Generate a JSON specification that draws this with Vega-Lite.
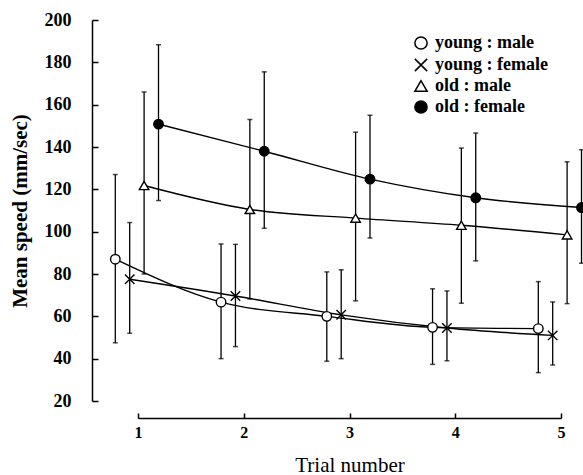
{
  "$schema": "https://vega.github.io/schema/vega-lite/v6.json",
  "width": 491,
  "height": 381,
  "autosize": {"type": "none"},
  "padding": {"left": 92, "top": 20, "right": 0, "bottom": 74},
  "background": "white",
  "config": {
    "view": {"stroke": null},
    "font": "Liberation Serif",
    "axis": {"grid": false, "domainColor": "black", "tickColor": "black", "labelColor": "black", "titleColor": "black", "domainWidth": 1.5, "tickWidth": 1.5}
  },
  "data": {
    "values": [
      {"trial": 1, "group": "young : male", "mean": 87, "hi": 127, "lo": 47.5},
      {"trial": 2, "group": "young : male", "mean": 66.7, "hi": 94.2, "lo": 40},
      {"trial": 3, "group": "young : male", "mean": 60, "hi": 81, "lo": 38.8},
      {"trial": 4, "group": "young : male", "mean": 54.8, "hi": 73, "lo": 37.3},
      {"trial": 5, "group": "young : male", "mean": 54.2, "hi": 76.4, "lo": 33.4},
      {"trial": 1, "group": "young : female", "mean": 77.5, "hi": 104.3, "lo": 52},
      {"trial": 2, "group": "young : female", "mean": 69.6, "hi": 94, "lo": 45.7},
      {"trial": 3, "group": "young : female", "mean": 60.7, "hi": 82, "lo": 40},
      {"trial": 4, "group": "young : female", "mean": 54.5, "hi": 72, "lo": 39},
      {"trial": 5, "group": "young : female", "mean": 51, "hi": 66.8, "lo": 37},
      {"trial": 1, "group": "old : male", "mean": 121.8, "hi": 166, "lo": 80},
      {"trial": 2, "group": "old : male", "mean": 110.5, "hi": 153, "lo": 68.2},
      {"trial": 3, "group": "old : male", "mean": 106.4, "hi": 147, "lo": 67.3},
      {"trial": 4, "group": "old : male", "mean": 103, "hi": 139.5, "lo": 66.2},
      {"trial": 5, "group": "old : male", "mean": 98.5, "hi": 133, "lo": 66},
      {"trial": 1, "group": "old : female", "mean": 150.8, "hi": 188.3, "lo": 114.7},
      {"trial": 2, "group": "old : female", "mean": 138, "hi": 175.5, "lo": 101.6},
      {"trial": 3, "group": "old : female", "mean": 124.8, "hi": 155, "lo": 97},
      {"trial": 4, "group": "old : female", "mean": 116, "hi": 146.6, "lo": 86.2},
      {"trial": 5, "group": "old : female", "mean": 111.4, "hi": 138.7, "lo": 85.1}
    ]
  },
  "encoding": {
    "x": {
      "field": "trial", "type": "ordinal",
      "scale": {"type": "point", "range": [46, 469], "padding": 0},
      "axis": {"labelAngle": 0, "tickSize": -5, "offset": 17, "labelFontSize": 16, "labelFontWeight": "bold", "labelPadding": 11, "title": "Trial number", "titleFontSize": 21, "titleFontWeight": "normal", "titlePadding": 14}
    },
    "xOffset": {
      "field": "group", "type": "nominal",
      "scale": {"type": "point", "domain": ["young : male", "young : female", "old : male", "old : female"], "range": [-22.7, 20.5], "padding": 0}
    }
  },
  "layer": [
    {
      "mark": {"type": "line", "color": "black", "strokeWidth": 1.4, "interpolate": "monotone"},
      "encoding": {"y": {"field": "mean", "type": "quantitative", "scale": {"domain": [20, 200]}, "axis": {"values": [20, 40, 60, 80, 100, 120, 140, 160, 180, 200], "tickSize": -6, "labelFontSize": 18, "labelFontWeight": "bold", "labelPadding": 27, "title": "Mean speed (mm/sec)", "titleFontSize": 21, "titleFontWeight": "bold", "titlePadding": 14}}, "detail": {"field": "group"}}
    },
    {
      "mark": {"type": "rule", "color": "black", "strokeWidth": 1.3},
      "encoding": {"y": {"field": "lo", "type": "quantitative"}, "y2": {"field": "hi"}}
    },
    {
      "mark": {"type": "tick", "orient": "horizontal", "color": "black", "size": 5, "thickness": 1.5},
      "encoding": {"y": {"field": "hi", "type": "quantitative"}}
    },
    {
      "mark": {"type": "tick", "orient": "horizontal", "color": "black", "size": 5, "thickness": 1.5},
      "encoding": {"y": {"field": "lo", "type": "quantitative"}}
    },
    {
      "mark": {"type": "point", "filled": true, "stroke": "black", "strokeWidth": 1.4, "size": 90, "opacity": 1},
      "encoding": {
        "y": {"field": "mean", "type": "quantitative"},
        "shape": {"field": "group", "type": "nominal", "scale": {"domain": ["young : male", "young : female", "old : male", "old : female"], "range": ["circle", "M-1,-1L1,1M-1,1L1,-1", "triangle-up", "circle"]}, "legend": {"title": null, "orient": "none", "legendX": 320, "legendY": 14, "symbolSize": 150, "labelFontSize": 18, "labelFontWeight": "bold", "labelColor": "black", "labelOffset": 5, "rowPadding": 2, "encode": {"symbols": {"update": {"stroke": {"value": "black"}, "strokeWidth": {"value": 1.5}}}}}},
        "fill": {"field": "group", "type": "nominal", "scale": {"domain": ["young : male", "young : female", "old : male", "old : female"], "range": ["white", "white", "white", "black"]}, "legend": {"title": null, "orient": "none", "legendX": 320, "legendY": 14, "symbolSize": 150, "labelFontSize": 18, "labelFontWeight": "bold", "labelColor": "black", "labelOffset": 5, "rowPadding": 2, "encode": {"symbols": {"update": {"stroke": {"value": "black"}, "strokeWidth": {"value": 1.5}}}}}}
      }
    }
  ]
}
